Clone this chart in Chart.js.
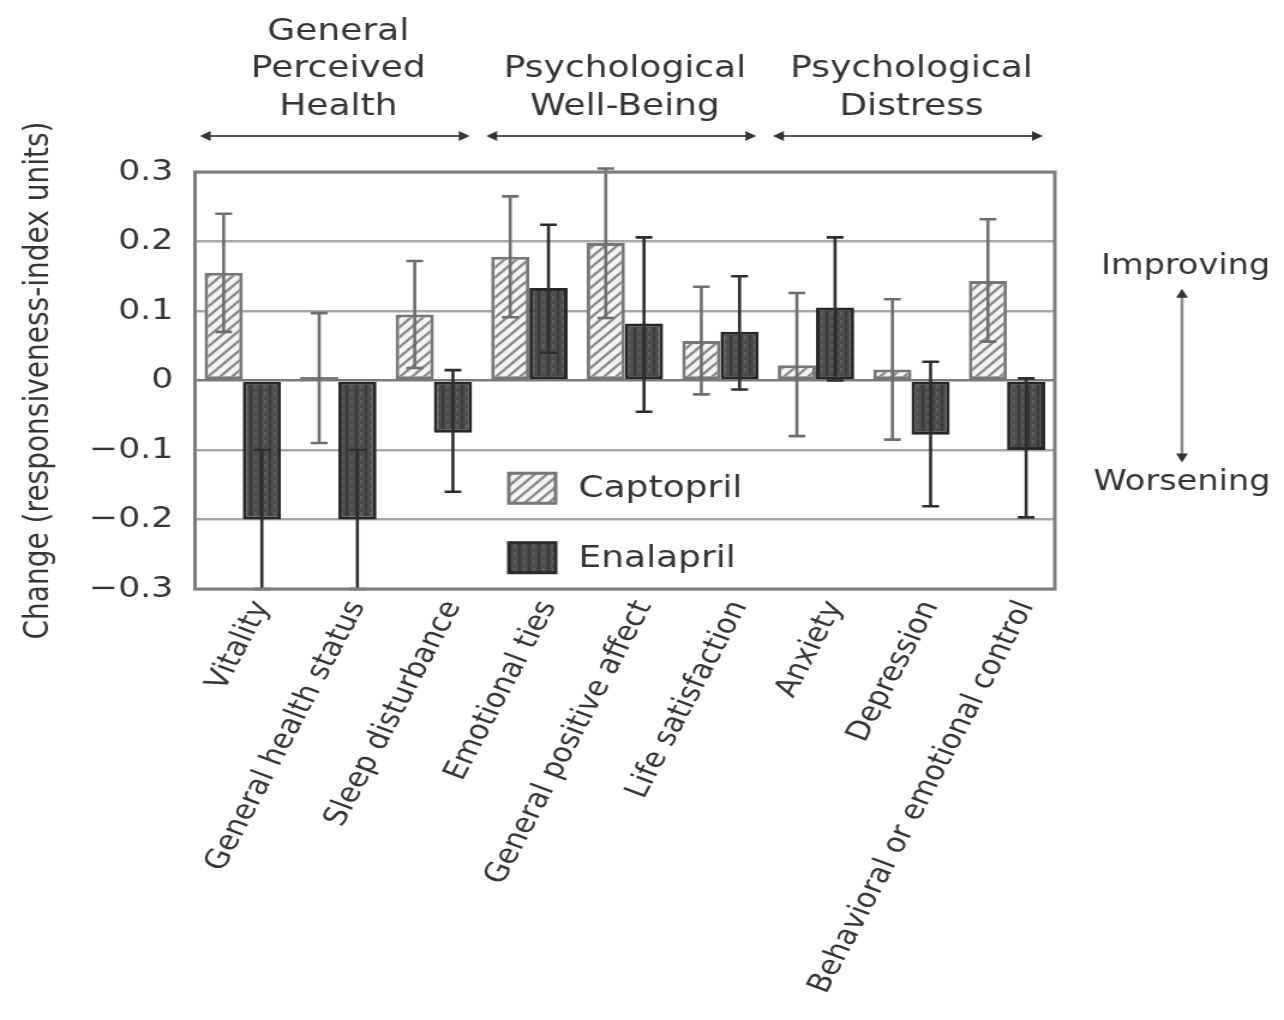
<!DOCTYPE html>
<html>
<head>
<meta charset="utf-8">
<script src="https://cdn.jsdelivr.net/npm/chart.js@4.4.0/dist/chart.umd.min.js"></script>
<style>
  html, body { margin: 0; padding: 0; background: #fff; overflow: hidden; }
  /* the original figure is stretched sideways, so draw it narrow and widen it */
  #wrap { width: 1070px; height: 1020px; transform: scaleX(1.2); transform-origin: 0 0; }
</style>
</head>
<body>
<div id="wrap"><canvas id="chart"></canvas></div>
<script>
// categories and values
const categories = [
  'Vitality',
  'General health status',
  'Sleep disturbance',
  'Emotional ties',
  'General positive affect',
  'Life satisfaction',
  'Anxiety',
  'Depression',
  'Behavioral or emotional control'
];

const captopril     = [0.155, 0.005, 0.095, 0.178, 0.198, 0.057, 0.022, 0.016, 0.143];
const captoprilLow  = [0.070, -0.090, 0.018, 0.091, 0.090, -0.020, -0.080, -0.085, 0.056];
const captoprilHigh = [0.240, 0.097, 0.172, 0.265, 0.305, 0.135, 0.126, 0.117, 0.232];

const enalapril     = [-0.200, -0.200, -0.075, 0.133, 0.082, 0.070, 0.105, -0.078, -0.100];
const enalaprilLow  = [-0.300, -0.300, -0.160, 0.040, -0.045, -0.013, 0.000, -0.181, -0.197];
const enalaprilHigh = [-0.100, -0.100, 0.015, 0.224, 0.206, 0.150, 0.206, 0.027, 0.003];

const yMin = -0.3;
const yMax = 0.3;
const yStep = 0.1;

// groups over the top of the plot: lines of text, first and last category
const groupNames = [
  ['General', 'Perceived', 'Health'],
  ['Psychological', 'Well-Being'],
  ['Psychological', 'Distress']
];
const groupFirst = [0, 3, 6];
const groupLast  = [2, 5, 8];

const yTitle = 'Change (responsiveness-index units)';
const upLabel = 'Improving';
const downLabel = 'Worsening';

const FONT = '"DejaVu Sans", "Liberation Sans", Arial, sans-serif';
const INK = '#353535';

let canvas = document.getElementById('chart');
let ctx0 = canvas.getContext('2d');

// light bars with diagonal hatching
function hatchPattern() {
  let c = document.createElement('canvas');
  c.width = 10; c.height = 10;
  let g = c.getContext('2d');
  g.fillStyle = '#f4f4f4';
  g.fillRect(0, 0, 10, 10);
  g.strokeStyle = '#8c8c8c';
  g.lineWidth = 2.4;
  g.beginPath();
  g.moveTo(-2, 12); g.lineTo(12, -2);
  g.moveTo(-7, 7); g.lineTo(7, -7);
  g.moveTo(3, 17); g.lineTo(17, 3);
  g.stroke();
  return ctx0.createPattern(c, 'repeat');
}

// dark bars with a faint texture
function darkPattern() {
  let c = document.createElement('canvas');
  c.width = 8; c.height = 8;
  let g = c.getContext('2d');
  g.fillStyle = '#4c4c4c';
  g.fillRect(0, 0, 8, 8);
  g.fillStyle = '#3a3a3a';
  g.fillRect(0, 0, 2, 8);
  g.fillStyle = '#5e5e5e';
  g.fillRect(4, 0, 2, 4);
  return ctx0.createPattern(c, 'repeat');
}

function drawArrowHead(ctx, x, y, dx, dy, size) {
  // dx, dy: unit direction the head points to
  ctx.beginPath();
  ctx.moveTo(x, y);
  ctx.lineTo(x - dx * size - dy * size * 0.55, y - dy * size + dx * size * 0.55);
  ctx.lineTo(x - dx * size + dy * size * 0.55, y - dy * size - dx * size * 0.55);
  ctx.closePath();
  ctx.fill();
}

const errorBars = {
  id: 'errorBars',
  afterDatasetsDraw(chart) {
    const ctx = chart.ctx;
    const y = chart.scales.y;
    const lows = [captoprilLow, enalaprilLow];
    const highs = [captoprilHigh, enalaprilHigh];
    const colors = ['#6e6e6e', '#2e2e2e'];
    ctx.save();
    for (let d = 0; d < 2; d++) {
      const meta = chart.getDatasetMeta(d);
      ctx.strokeStyle = colors[d];
      ctx.lineWidth = 2.6;
      meta.data.forEach((bar, i) => {
        const yl = y.getPixelForValue(lows[d][i]);
        const yh = y.getPixelForValue(highs[d][i]);
        ctx.beginPath();
        ctx.moveTo(bar.x, yl); ctx.lineTo(bar.x, yh);
        ctx.moveTo(bar.x - 7, yl); ctx.lineTo(bar.x + 7, yl);
        ctx.moveTo(bar.x - 7, yh); ctx.lineTo(bar.x + 7, yh);
        ctx.stroke();
      });
    }
    ctx.restore();
  }
};

const decorations = {
  id: 'decorations',
  afterDraw(chart) {
    const ctx = chart.ctx;
    const a = chart.chartArea;
    const x = chart.scales.x;
    const y = chart.scales.y;
    ctx.save();

    // frame round the plot
    ctx.strokeStyle = '#7c7c7c';
    ctx.lineWidth = 3;
    ctx.strokeRect(a.left, a.top, a.right - a.left, a.bottom - a.top);

    // group headings and their arrows
    const half = (x.getPixelForValue(1) - x.getPixelForValue(0)) / 2;
    ctx.font = '30px ' + FONT;
    ctx.fillStyle = INK;
    ctx.textAlign = 'center';
    ctx.textBaseline = 'middle';
    groupNames.forEach((lines, g) => {
      const left = x.getPixelForValue(groupFirst[g]) - half;
      const right = x.getPixelForValue(groupLast[g]) + half;
      const cx = (left + right) / 2;
      lines.forEach((t, k) => {
        ctx.fillText(t, cx, 107 - (lines.length - 1 - k) * 37.5);
      });
      const x0 = left + 4, x1 = right - 10, ya = 136;
      ctx.strokeStyle = '#555';
      ctx.lineWidth = 2;
      ctx.beginPath();
      ctx.moveTo(x0 + 4, ya); ctx.lineTo(x1 - 4, ya);
      ctx.stroke();
      ctx.fillStyle = '#333';
      drawArrowHead(ctx, x0, ya, -1, 0, 9);
      drawArrowHead(ctx, x1, ya, 1, 0, 9);
      ctx.fillStyle = INK;
    });

    // legend inside the plot
    const lx = a.left + (a.right - a.left) * 0.365;
    const boxes = [
      { label: chart.data.datasets[0].label, fill: chart.data.datasets[0].backgroundColor, border: '#777', v: -0.155 },
      { label: chart.data.datasets[1].label, fill: chart.data.datasets[1].backgroundColor, border: '#2a2a2a', v: -0.255 }
    ];
    boxes.forEach(b => {
      const cy = y.getPixelForValue(b.v);
      ctx.fillStyle = b.fill;
      ctx.fillRect(lx, cy - 15, 39, 30);
      ctx.strokeStyle = b.border;
      ctx.lineWidth = 3;
      ctx.strokeRect(lx, cy - 15, 39, 30);
      ctx.fillStyle = INK;
      ctx.font = '30px ' + FONT;
      ctx.textAlign = 'left';
      ctx.fillText(b.label, lx + 58, cy + 1);
    });

    // improving / worsening note on the right
    const rx = 985;
    ctx.textAlign = 'center';
    ctx.font = '28px ' + FONT;
    ctx.fillText(upLabel, rx + 3, y.getPixelForValue(0.163));
    ctx.fillText(downLabel, rx, y.getPixelForValue(-0.147));
    const yTop = y.getPixelForValue(0.132);
    const yBot = y.getPixelForValue(-0.118);
    ctx.strokeStyle = '#8a8a8a';
    ctx.lineWidth = 2.5;
    ctx.beginPath();
    ctx.moveTo(rx, yTop + 6); ctx.lineTo(rx, yBot - 6);
    ctx.stroke();
    ctx.fillStyle = '#333';
    drawArrowHead(ctx, rx, yTop, 0, -1, 9);
    drawArrowHead(ctx, rx, yBot, 0, 1, 9);

    ctx.restore();
  }
};

const data = {
  labels: categories,
  datasets: [{
    label: 'Captopril',
    data: captopril,
    backgroundColor: hatchPattern(),
    borderColor: '#777',
    borderWidth: 3,
    borderSkipped: false
  }, {
    label: 'Enalapril',
    data: enalapril,
    backgroundColor: darkPattern(),
    borderColor: '#262626',
    borderWidth: 3,
    borderSkipped: false
  }]
};

const config = {
  type: 'bar',
  data: data,
  options: {
    responsive: true,
    maintainAspectRatio: false,
    animation: false,
    categoryPercentage: 0.8,
    barPercentage: 1.0,
    layout: { padding: { top: 172, right: 191, left: 12, bottom: 0 } },
    plugins: {
      legend: { display: false },
      tooltip: { enabled: false }
    },
    scales: {
      x: {
        grid: { display: false, drawTicks: false },
        border: { display: false },
        ticks: {
          autoSkip: false,
          maxRotation: 66,
          minRotation: 66,
          padding: 7,
          labelOffset: 16,
          color: INK,
          font: { family: FONT, size: 27 }
        },
        afterFit: s => { s.height = 431; }
      },
      y: {
        min: yMin,
        max: yMax,
        grid: {
          drawTicks: false,
          lineWidth: 2.5,
          color: c => (c.tick && Math.abs(c.tick.value) < 1e-9) ? '#7a7a7a' : '#a8a8a8'
        },
        border: { display: false },
        ticks: {
          stepSize: yStep,
          padding: 18,
          color: INK,
          font: { family: FONT, size: 29 },
          callback: v => {
            const r = Math.round(v * 10) / 10;
            if (r === 0) return '0';
            return r < 0 ? '\u2212' + Math.abs(r).toFixed(1) : r.toFixed(1);
          }
        },
        title: {
          display: true,
          text: yTitle,
          color: INK,
          padding: 4,
          font: { family: FONT, size: 28 }
        },
        afterFit: s => { s.width = 150.5; }
      }
    }
  },
  plugins: [errorBars, decorations]
};

const myChart = new Chart(canvas, config);
</script>
</body>
</html>
